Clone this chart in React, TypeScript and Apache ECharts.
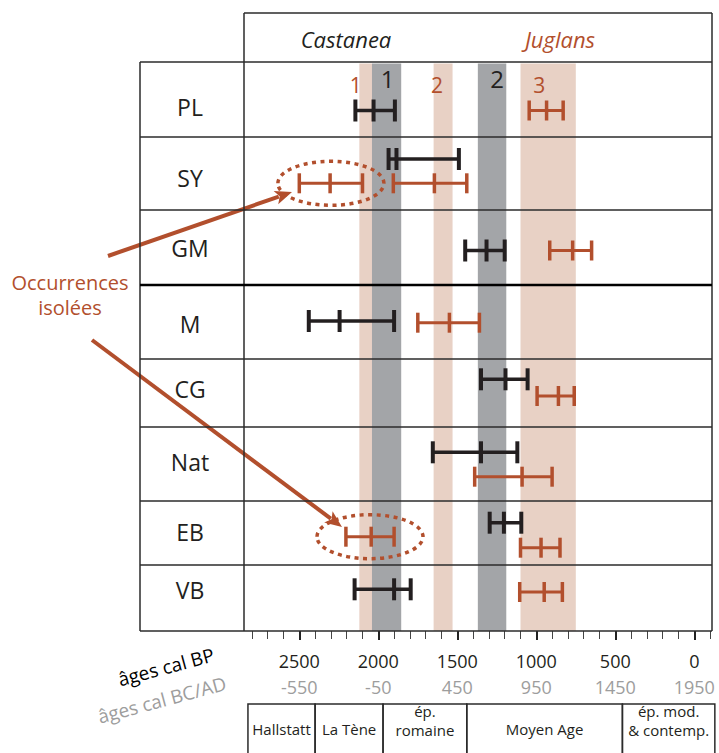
import React, { useEffect, useRef } from "react";
import * as echarts from "echarts";

// ---------------- DATA ----------------
const sites = ["PL", "SY", "GM", "M", "CG", "Nat", "EB", "VB"];

// Castanea dates (years cal BP): oldest, median, youngest
const castaneaSite = ["PL", "SY", "GM", "M", "CG", "Nat", "EB", "VB"];
const castaneaOldest = [2145, 1935, 1450, 2440, 1350, 1655, 1295, 2150];
const castaneaMedian = [2030, 1885, 1315, 2245, 1195, 1350, 1205, 1900];
const castaneaYoungest = [1895, 1490, 1200, 1900, 1055, 1120, 1095, 1795];

// Juglans dates (years cal BP)
const juglansSite = ["PL", "SY", "SY", "GM", "M", "CG", "Nat", "EB", "EB", "VB"];
const juglansOldest = [1045, 1905, 2500, 915, 1750, 995, 1390, 1100, 2205, 1105];
const juglansMedian = [935, 1645, 2305, 770, 1550, 860, 1090, 970, 2045, 950];
const juglansYoungest = [830, 1440, 2100, 650, 1360, 760, 900, 850, 1900, 835];
const juglansIsolated = [false, false, true, false, false, false, false, false, true, false];

// Expansion phases (years cal BP)
const phaseLabels = ["1", "1", "2", "2", "3"];
const phaseTaxon = ["Juglans", "Castanea", "Juglans", "Castanea", "Juglans"];
const phaseFrom = [2120, 2040, 1650, 1370, 1100];
const phaseTo = [2040, 1855, 1530, 1190, 750];

// Cultural periods (years cal BP)
const periodNames = [["Hallstatt"], ["La Tène"], ["ép.", "romaine"], ["Moyen Age"], ["ép. mod.", "& contemp."]];
const periodFrom = [2825, 2400, 1970, 1440, 455];
const periodTo = [2400, 1970, 1440, 455, -130];

// Axis ticks
const bpMajorTicks = [2500, 2000, 1500, 1000, 500, 0];
const bpMinorTicks = [2800, 2700, 2600, 2500, 2400, 2300, 2200, 2100, 2000, 1900, 1800, 1700, 1600, 1500, 1400, 1300, 1200, 1100, 1000, 900, 800, 700, 600, 500, 400, 300, 200, 100, 0, -100];
const calendarOffset = 1950;
const axisMin = -112;
const axisMax = 2850;
const axisTitles = ["âges cal BP", "âges cal BC/AD"];

// ---------------- LAYOUT ----------------
const W = 719;
const H = 753;
const PLOT_L = 244;
const PLOT_R = 712;
const HEAD_T = 13;
const ROWS_T = 62;
const ROWS_B = 631;
const COL_L = 140;
const ROW_H = [75, 73, 75, 74, 68, 74, 64, 66];
const CAST_DY = [11, -14.5, 3, -1, -13.7, -11.7, -10.3, -8.7];
const JUG_DY = [11, 9.8, 9.8, 3, 0.7, 3, 12.7, 14.7, 3.7, -6];
const LABEL_DY = [7, 4.5, 0, 2, -4, -2, -1, -8];
const PHASE_LABEL_DX = [-10, 1, -6, 5, -9];
const PERIOD_T = 704;
// overlay for rotated titles
const OV_L = 0;
const OV_T = 630;
const OV_W = 240;
const OV_H = 110;
const TITLE_POS = [[166, 667], [162, 700]];
const TITLE_SIZE = 19;

const FONT = "'Open Sans', 'Noto Sans', sans-serif";
const BLACK = "#231f20";
const RED = "#b24f2d";
const RED_BAND = "#e8d1c5";
const GRAY_BAND = "#a3a5a8";
const LINE = "#2b2b2b";
const GRAY_TEXT = "#9d9d9d";

const ROW_EDGES: number[] = [0];
ROW_H.forEach((h, i) => ROW_EDGES.push(ROW_EDGES[i] + h));
const rowCenter = (i: number) => ROW_EDGES[i] + ROW_H[i] / 2;

function barSeries(
  name: string,
  siteArr: string[],
  oldest: number[],
  median: number[],
  youngest: number[],
  dy: number[],
  color: string,
  lw: number,
  capW: number,
  capH: number
) {
  const data = oldest.map((o, i) => {
    const si = sites.indexOf(siteArr[i]);
    return [o, median[i], youngest[i], rowCenter(si) + dy[i]];
  });
  return {
    type: "custom",
    name,
    data,
    z: 5,
    clip: false,
    encode: { x: [0, 1, 2], y: 3 },
    renderItem: (_params: any, api: any) => {
      const y = api.value(3);
      const a = api.coord([api.value(0), y]);
      const b = api.coord([api.value(1), y]);
      const c = api.coord([api.value(2), y]);
      const h = capH / 2;
      const cap = (p: number[]) => ({
        type: "line",
        shape: { x1: p[0], y1: p[1] - h, x2: p[0], y2: p[1] + h },
        style: { stroke: color, lineWidth: capW },
      });
      return {
        type: "group",
        children: [
          { type: "line", shape: { x1: a[0], y1: a[1], x2: c[0], y2: c[1] }, style: { stroke: color, lineWidth: lw } },
          cap(a),
          cap(b),
          cap(c),
        ],
      };
    },
  };
}

function arrow(sx: number, sy: number, tx: number, ty: number) {
  const dx = tx - sx;
  const dy = ty - sy;
  const len = Math.sqrt(dx * dx + dy * dy);
  const ux = dx / len;
  const uy = dy / len;
  const L = 17;
  const w = 7;
  const bx = tx - ux * L;
  const by = ty - uy * L;
  return [
    { type: "line", shape: { x1: sx, y1: sy, x2: bx + ux * 3, y2: by + uy * 3 }, style: { stroke: RED, lineWidth: 4 } },
    {
      type: "polygon",
      shape: { points: [[tx, ty], [bx - uy * w, by + ux * w], [bx + ux * 4, by + uy * 4], [bx + uy * w, by - ux * w]] },
      style: { fill: RED },
    },
  ];
}

export default function App() {
  const ref = useRef<HTMLDivElement>(null);
  const ovRef = useRef<HTMLDivElement>(null);
  useEffect(() => {
    if (!ref.current || !ovRef.current) return;
    const chart = echarts.init(ref.current, null, { renderer: "svg" });
    const overlay = echarts.init(ovRef.current, null, { renderer: "svg" });

    const hl = (y: number, x1: number, x2: number, lw = 1.5, color = LINE) => ({
      type: "line",
      shape: { x1, y1: y, x2, y2: y },
      style: { stroke: color, lineWidth: lw },
      z: 10,
    });
    const vl = (x: number, y1: number, y2: number, lw = 1.5) => ({
      type: "line",
      shape: { x1: x, y1, x2: x, y2 },
      style: { stroke: LINE, lineWidth: lw },
      z: 10,
    });

    const graphics: any[] = [];
    // table frame
    graphics.push(hl(HEAD_T, PLOT_L, PLOT_R));
    graphics.push(vl(PLOT_L, HEAD_T, ROWS_B));
    graphics.push(vl(PLOT_R, HEAD_T, ROWS_B));
    graphics.push(vl(COL_L, ROWS_T, ROWS_B));
    ROW_EDGES.forEach((e, i) => {
      const thick = i === 3;
      graphics.push(hl(ROWS_T + e, COL_L, PLOT_R, thick ? 2.5 : 1.5, thick ? "#000" : LINE));
    });
    // row labels
    sites.forEach((s, i) => {
      graphics.push({
        type: "text",
        x: 190,
        y: ROWS_T + rowCenter(i) + LABEL_DY[i],
        style: { text: s, fontSize: 23, fontFamily: FONT, fill: BLACK, textAlign: "center", textVerticalAlign: "middle" },
        z: 10,
      });
    });
    // header
    graphics.push({
      type: "text", x: 346, y: 39,
      style: { text: "Castanea", fontSize: 22, fontStyle: "italic", fontFamily: FONT, fill: BLACK, textAlign: "center", textVerticalAlign: "middle" },
    });
    graphics.push({
      type: "text", x: 560, y: 39,
      style: { text: "Juglans", fontSize: 22, fontStyle: "italic", fontFamily: FONT, fill: RED, textAlign: "center", textVerticalAlign: "middle" },
    });
    // annotation
    graphics.push({
      type: "text", x: 70, y: 282,
      style: { text: "Occurrences", fontSize: 20, fontFamily: FONT, fill: RED, textAlign: "center", textVerticalAlign: "middle" },
    });
    graphics.push({
      type: "text", x: 70, y: 307,
      style: { text: "isolées", fontSize: 20, fontFamily: FONT, fill: RED, textAlign: "center", textVerticalAlign: "middle" },
    });
    graphics.push(...arrow(108, 256, 292, 192));
    graphics.push(...arrow(92, 340, 342, 527));

    const phaseData = phaseFrom.map((f, i) => [f, phaseTo[i], i]);
    const periodData = periodFrom.map((f, i) => [f, periodTo[i], i]);
    const isoData = juglansOldest
      .map((o, i) => ({ o, i }))
      .filter((d) => juglansIsolated[d.i])
      .map(({ o, i }) => [o, juglansYoungest[i], rowCenter(sites.indexOf(juglansSite[i])) + JUG_DY[i]]);

    const option: any = {
      animation: false,
      backgroundColor: "#fff",
      grid: { left: PLOT_L, top: ROWS_T, width: PLOT_R - PLOT_L, height: ROWS_B - ROWS_T },
      xAxis: [
        {
          type: "value", min: axisMin, max: axisMax, inverse: true, position: "bottom",
          axisLine: { show: false, onZero: false }, splitLine: { show: false },
          axisTick: { show: true, customValues: bpMinorTicks, length: 8, lineStyle: { color: "#444", width: 1 } },
          axisLabel: {
            customValues: bpMajorTicks, margin: 21, fontSize: 18, fontFamily: FONT, color: BLACK,
            formatter: (v: number) => String(v),
          },
        },
        {
          type: "value", min: axisMin, max: axisMax, inverse: true, position: "bottom",
          axisLine: { show: false, onZero: false }, splitLine: { show: false },
          axisTick: { show: true, customValues: bpMajorTicks, length: 9, lineStyle: { color: "#222", width: 2 } },
          axisLabel: {
            customValues: bpMajorTicks, margin: 47, fontSize: 18, fontFamily: FONT, color: GRAY_TEXT,
            formatter: (v: number) => String(calendarOffset - v),
          },
        },
      ],
      yAxis: { type: "value", min: 0, max: ROWS_B - ROWS_T, inverse: true, show: false },
      graphic: graphics,
      series: [
        {
          type: "custom",
          name: "phases",
          data: phaseData,
          z: 1,
          clip: false,
          encode: { x: [0, 1] },
          renderItem: (params: any, api: any) => {
            const i = api.value(2);
            const x1 = api.coord([api.value(0), 0])[0];
            const x2 = api.coord([api.value(1), 0])[0];
            const cs = params.coordSys;
            const isC = phaseTaxon[i] === "Castanea";
            return {
              type: "group",
              children: [
                {
                  type: "rect",
                  shape: { x: x1, y: cs.y + 1.5, width: x2 - x1, height: cs.height - 1.5 },
                  style: { fill: isC ? GRAY_BAND : RED_BAND },
                },
                {
                  type: "text",
                  x: (x1 + x2) / 2 + PHASE_LABEL_DX[i],
                  y: isC ? 78 : 85,
                  style: {
                    text: phaseLabels[i], fontSize: isC ? 24 : 21, fontFamily: FONT,
                    fill: isC ? BLACK : RED, textAlign: "center", textVerticalAlign: "middle",
                  },
                },
              ],
            };
          },
        },
        {
          type: "custom",
          name: "periods",
          data: periodData,
          z: 2,
          clip: false,
          encode: { x: [0, 1] },
          renderItem: (_params: any, api: any) => {
            const i = api.value(2);
            const x1 = api.coord([api.value(0), 0])[0];
            const x2 = api.coord([api.value(1), 0])[0];
            const lines = periodNames[i];
            const ys = lines.length > 1 ? [711, 730] : [729];
            return {
              type: "group",
              children: [
                {
                  type: "rect",
                  shape: { x: x1, y: PERIOD_T, width: x2 - x1, height: 80 },
                  style: { fill: "none", stroke: LINE, lineWidth: 1.5 },
                },
                ...lines.map((t, k) => ({
                  type: "text",
                  x: (x1 + x2) / 2,
                  y: ys[k],
                  style: {
                    text: t, fontSize: 15, lineHeight: 17, fontFamily: FONT, fill: BLACK,
                    textAlign: "center", textVerticalAlign: "middle",
                  },
                })),
              ],
            };
          },
        },
        barSeries("Castanea", castaneaSite, castaneaOldest, castaneaMedian, castaneaYoungest, CAST_DY, BLACK, 3.5, 4, 22),
        barSeries("Juglans", juglansSite, juglansOldest, juglansMedian, juglansYoungest, JUG_DY, RED, 3, 3.5, 20),
        {
          type: "custom",
          name: "isolated",
          data: isoData,
          z: 6,
          clip: false,
          encode: { x: [0, 1], y: 2 },
          renderItem: (_params: any, api: any) => {
            const a = api.coord([api.value(0), api.value(2)]);
            const c = api.coord([api.value(1), api.value(2)]);
            return {
              type: "ellipse",
              shape: { cx: (a[0] + c[0]) / 2, cy: a[1], rx: 53, ry: 22 },
              style: { fill: "none", stroke: RED, lineWidth: 3.5, lineDash: [4, 4.5] },
            };
          },
        },
      ],
    };
    chart.setOption(option);

    // rotated axis titles in a separate transparent overlay chart
    overlay.setOption({
      animation: false,
      graphic: axisTitles.map((t, k) => ({
        type: "text",
        x: TITLE_POS[k][0] - OV_L,
        y: TITLE_POS[k][1] - OV_T,
        rotation: (15 * Math.PI) / 180,
        style: {
          text: t, fontSize: TITLE_SIZE, fontFamily: FONT, fill: k === 0 ? "#000" : GRAY_TEXT,
          textAlign: "center", textVerticalAlign: "middle",
        },
      })),
    });

    return () => {
      chart.dispose();
      overlay.dispose();
    };
  }, []);
  return (
    <div style={{ position: "absolute", left: 0, top: 0, width: W, height: H }}>
      <div ref={ref} style={{ position: "absolute", left: 0, top: 0, width: W, height: H }} />
      <div ref={ovRef} style={{ position: "absolute", left: OV_L, top: OV_T, width: OV_W, height: OV_H }} />
    </div>
  );
}
